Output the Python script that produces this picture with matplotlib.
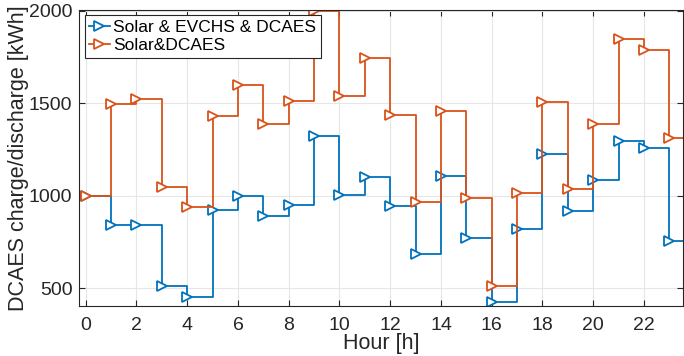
import numpy as np
import matplotlib.pyplot as plt

hours = np.arange(24)
solar_evchs_dcaes = [1000, 842, 842, 512, 451, 921, 998, 889, 948, 1323, 1004, 1099,
                     944, 683, 1105, 773, 429, 820, 1225, 917, 1083, 1294, 1256, 757]
solar_dcaes = [1000, 1497, 1520, 1045, 937, 1432, 1598, 1389, 1513, 1995, 1537, 1743,
               1435, 964, 1458, 988, 512, 1013, 1508, 1036, 1389, 1845, 1789, 1310]

blue = "#0072BD"
orange = "#D95319"
dark = "#262626"

plt.rcParams["font.family"] = ["Liberation Sans", "DejaVu Sans"]


def main():
    fig = plt.figure(figsize=(6.84, 3.56), dpi=100)
    ax = fig.add_axes([0.116, 0.14, 0.883, 0.832])

    for vals, col, lab in [(solar_evchs_dcaes, blue, "Solar & EVCHS & DCAES"),
                           (solar_dcaes, orange, "Solar&DCAES")]:
        x = np.append(hours, 24)
        y = np.append(vals, vals[-1])
        ax.step(x, y, where="post", color=col, lw=1.3)
        ax.plot(hours, vals, ls="", marker=">", ms=7, mfc="white", mec=col, mew=1.3)
        ax.plot([], [], color=col, lw=1.3, marker=">", ms=7, mfc="white", mec=col,
                mew=1.3, label=lab)

    ax.set_xlim(-0.25, 23.55)
    ax.set_ylim(404, 2003)
    ax.set_xticks(np.arange(0, 23, 2))
    ax.set_yticks([500, 1000, 1500, 2000])
    ax.grid(True, color="#e6e6e6", lw=0.8)
    ax.set_axisbelow(True)
    ax.tick_params(direction="in", top=True, right=True, labelsize=14, colors=dark,
                   length=4, pad=5)
    ax.tick_params(axis="x", pad=8)
    for s in ax.spines.values():
        s.set_color(dark)
        s.set_linewidth(0.8)
    ax.set_xlabel("Hour [h]", fontsize=15.5, color=dark, labelpad=-1)
    ax.set_ylabel("DCAES charge/discharge [kWh]", fontsize=15.5, color=dark, labelpad=0)

    leg = ax.legend(loc="upper left", fontsize=12.5, handlelength=1.2,
                    handletextpad=0.2, borderpad=0.25, labelspacing=0.2,
                    fancybox=False, framealpha=1, borderaxespad=0.3)
    leg.get_frame().set_edgecolor(dark)
    leg.get_frame().set_linewidth(0.8)

    fig.savefig("out.png", dpi=100)


if __name__ == "__main__":
    main()
